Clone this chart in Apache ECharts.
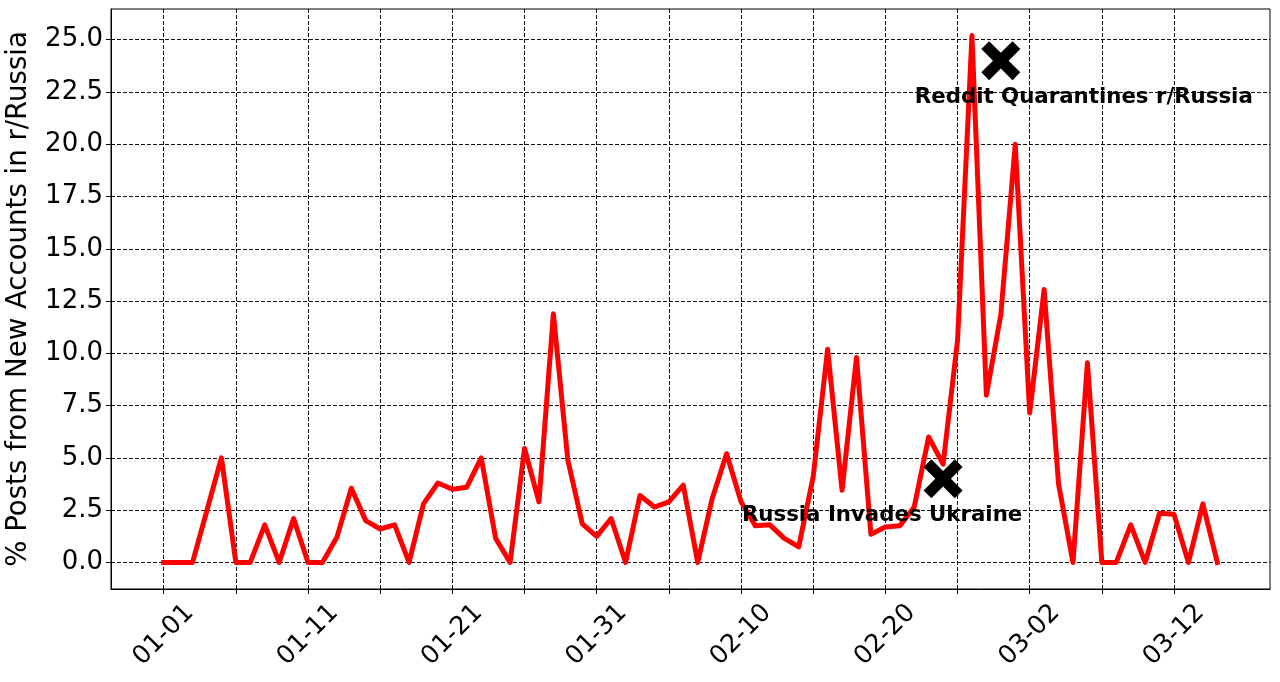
<!DOCTYPE html>
<html>
<head>
<meta charset="utf-8">
<script src="https://cdn.jsdelivr.net/npm/echarts@6/dist/echarts.min.js"></script>
<style>
html,body{margin:0;padding:0;background:#fff;}
#chart{width:1280px;height:682px;}
</style>
</head>
<body>
<div id="chart"></div>
<script>
const dates = [
  '01-01','01-02','01-03','01-04','01-05','01-06','01-07','01-08','01-09','01-10',
  '01-11','01-12','01-13','01-14','01-15','01-16','01-17','01-18','01-19','01-20',
  '01-21','01-22','01-23','01-24','01-25','01-26','01-27','01-28','01-29','01-30',
  '01-31','02-01','02-02','02-03','02-04','02-05','02-06','02-07','02-08','02-09',
  '02-10','02-11','02-12','02-13','02-14','02-15','02-16','02-17','02-18','02-19',
  '02-20','02-21','02-22','02-23','02-24','02-25','02-26','02-27','02-28','03-01',
  '03-02','03-03','03-04','03-05','03-06','03-07','03-08','03-09','03-10','03-11',
  '03-12','03-13','03-14','03-15'
];
const pctNewAccounts = [
  0, 0, 0, 2.5, 5.0, 0, 0, 1.8, 0, 2.1,
  0, 0, 1.2, 3.55, 2.0, 1.6, 1.8, 0, 2.8, 3.8,
  3.5, 3.6, 5.0, 1.15, 0, 5.45, 2.9, 11.9, 4.9, 1.85,
  1.25, 2.1, 0, 3.2, 2.65, 2.9, 3.7, 0, 3.05, 5.2,
  2.9, 1.75, 1.8, 1.15, 0.75, 4.1, 10.2, 3.45, 9.8, 1.35,
  1.7, 1.75, 2.65, 6.0, 4.7, 10.6, 25.2, 8.0, 11.85, 20.0,
  7.15, 13.05, 3.75, 0, 9.55, 0, 0, 1.8, 0, 2.35,
  2.3, 0, 2.8, 0
];
const xTickDates = ['01-01','01-06','01-11','01-16','01-21','01-26','01-31','02-05','02-10','02-15','02-20','02-25','03-02','03-07','03-12'];
const xLabelDates = ['01-01','01-11','01-21','01-31','02-10','02-20','03-02','03-12'];
const yTicks = [0, 2.5, 5, 7.5, 10, 12.5, 15, 17.5, 20, 22.5, 25];
const eventDates = ['02-24', '02-28'];
const eventValues = [4.0, 24.0];
const eventLabels = ['Russia Invades Ukraine', 'Reddit Quarantines r/Russia'];

const dayIdx = d => dates.indexOf(d);
const lineData = pctNewAccounts.map((v, i) => [i, v]);
const labelOffsets = [[-61, 37], [83, 37]];

const xPath = 'path://M2,0 L5,3 L8,0 L10,2 L7,5 L10,8 L8,10 L5,7 L2,10 L0,8 L3,5 L0,2 Z';

const chart = echarts.init(document.getElementById('chart'));
const font = 'DejaVu Sans';
chart.setOption({
  animation: false,
  backgroundColor: '#fff',
  textStyle: { fontFamily: font },
  grid: {
    left: 111, right: 10, top: 9, bottom: 93,
    show: true, borderColor: '#000', borderWidth: 1,
    containLabel: false, outerBoundsMode: 'none'
  },
  xAxis: {
    type: 'value',
    min: -3.65, max: 76.65,
    axisLine: { show: true, onZero: false, lineStyle: { color: '#000', width: 1 } },
    axisTick: { show: true, length: 5, inside: false, customValues: xTickDates.map(dayIdx), lineStyle: { color: '#000' } },
    axisLabel: {
      customValues: xLabelDates.map(dayIdx),
      formatter: v => dates[Math.round(v)],
      rotate: 45, align: 'center', verticalAlign: 'middle', margin: 46,
      fontSize: 25.5, color: '#000', fontFamily: font
    },
    splitLine: { show: true, lineStyle: { type: [4, 2], color: '#111', width: 1 } }
  },
  yAxis: {
    type: 'value',
    min: -1.27, max: 26.47,
    name: '% Posts from New Accounts in r/Russia',
    nameLocation: 'middle', nameGap: 78, nameRotate: 90,
    nameTextStyle: { fontSize: 27.6, color: '#000', fontFamily: font },
    axisLine: { show: true, onZero: false, lineStyle: { color: '#000', width: 1 } },
    axisTick: { show: true, length: 5, customValues: yTicks, lineStyle: { color: '#000' } },
    axisLabel: {
      customValues: yTicks,
      formatter: v => Number(v).toFixed(1),
      fontSize: 26, color: '#000', margin: 8, fontFamily: font
    },
    splitLine: { show: true, lineStyle: { type: [4, 2], color: '#111', width: 1 } }
  },
  series: [
    {
      type: 'line',
      data: lineData,
      showSymbol: false,
      symbol: 'none',
      lineStyle: { color: '#ff0000', width: 5, join: 'round', cap: 'square' },
      z: 3
    },
    {
      type: 'scatter',
      data: eventDates.map((d, i) => ({
        value: [dayIdx(d), eventValues[i]],
        label: { offset: labelOffsets[i] }
      })),
      symbol: xPath,
      symbolSize: 39,
      itemStyle: { color: '#000', opacity: 1 },
      label: {
        show: true,
        position: 'inside',
        formatter: p => eventLabels[p.dataIndex],
        fontSize: 21.3, fontWeight: 'bold', color: '#000', fontFamily: font
      },
      emphasis: { disabled: true },
      z: 5
    }
  ]
});
</script>
</body>
</html>
